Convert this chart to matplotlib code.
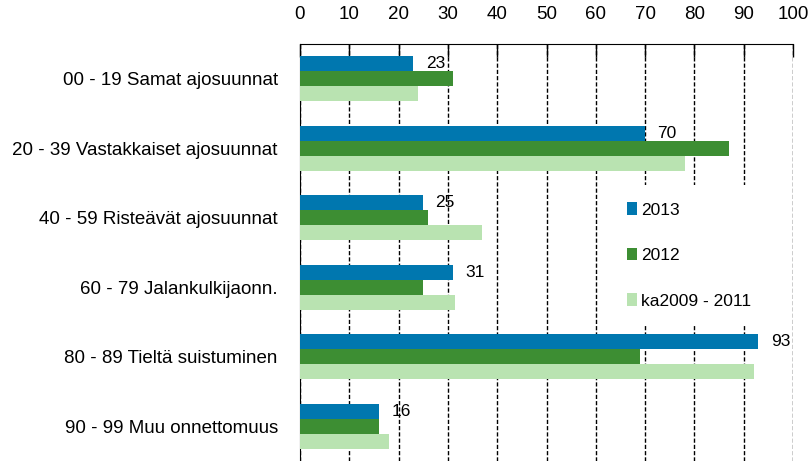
import numpy as np
import matplotlib.pyplot as plt

plt.rcParams['font.family'] = ['Liberation Sans', 'DejaVu Sans']

categories = [
    "00 - 19 Samat ajosuunnat",
    "20 - 39 Vastakkaiset ajosuunnat",
    "40 - 59 Risteävät ajosuunnat",
    "60 - 79 Jalankulkijaonn.",
    "80 - 89 Tieltä suistuminen",
    "90 - 99 Muu onnettomuus",
]
v2013 = [23, 70, 25, 31, 93, 16]
v2012 = [31, 87, 26, 25, 69, 16]
vka = [24, 78, 37, 31.5, 92, 18]
series_names = ["2013", "2012", "ka2009 - 2011"]
colors = ["#0077AF", "#3D8E33", "#B9E3B1"]
xticks = list(range(0, 101, 10))

fig = plt.figure(figsize=(8.12, 4.61), dpi=100)
ax = fig.add_axes([300 / 812, 0, 493 / 812, 417 / 461])

y = np.arange(len(categories))
h = 0.215
for i, (vals, name, c) in enumerate(zip([v2013, v2012, vka], series_names, colors)):
    ax.barh(y + (i - 1) * h, vals, height=h, color=c, label=name, zorder=3)

# value labels only for 2013
for yi, v in zip(y, v2013):
    ax.text(v + 2.5, yi - h, f"{v}", va="center", ha="left", fontsize=12.5, zorder=4)

ax.set_xlim(0, 100)
ax.set_ylim(len(categories) - 0.5, -0.5)
ax.set_yticks(y)
ax.set_yticklabels(categories, fontsize=13.5)
ax.tick_params(axis="y", length=0, pad=16)
ax.xaxis.tick_top()
ax.set_xticks(xticks)
ax.tick_params(axis="x", direction="in", length=9, width=1, labelsize=13.5, pad=15, colors="black")
ax.grid(axis="x", linestyle=(0, (3, 1.5)), color="black", linewidth=1, zorder=1)
for s in ["bottom", "right"]:
    ax.spines[s].set_visible(False)

leg = ax.legend(loc="upper left", bbox_to_anchor=(610 / 812, 1 - 185 / 461), bbox_transform=fig.transFigure,
                fontsize=12.5, frameon=True, fancybox=False, framealpha=1, edgecolor="none",
                handlelength=0.55, handleheight=0.7, handletextpad=0.25, labelspacing=1.75,
                borderpad=1.0, borderaxespad=0)
leg.set_zorder(5)
leg.get_frame().set_facecolor("white")

fig.savefig("out.png", dpi=100)
